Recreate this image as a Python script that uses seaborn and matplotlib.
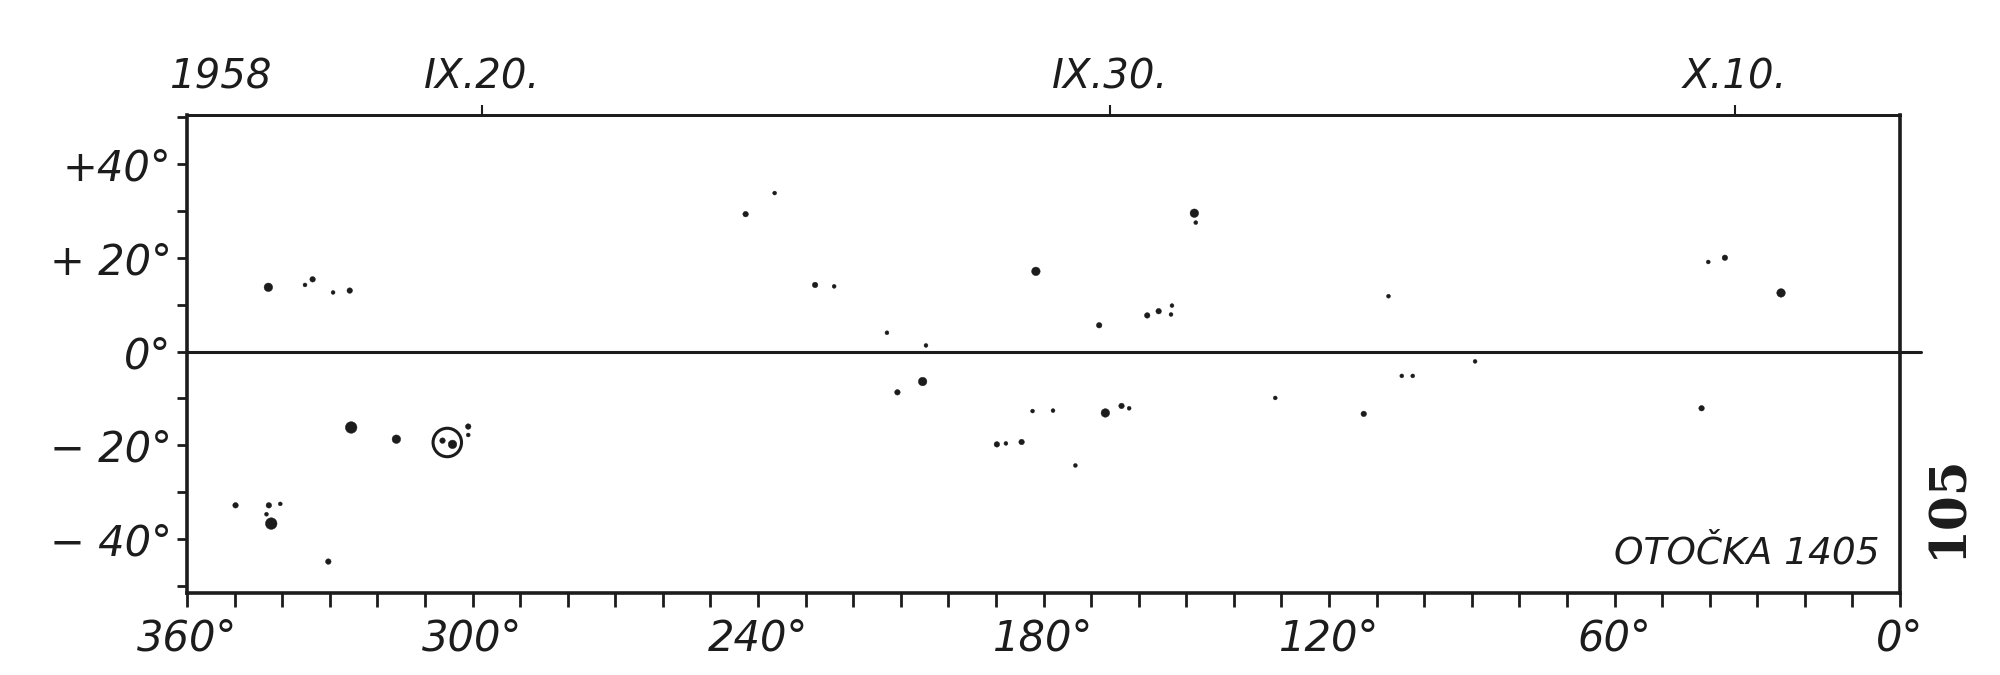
import matplotlib
matplotlib.use("Agg")
import matplotlib.pyplot as plt
import seaborn as sns
import pandas as pd
import numpy as np

# ---------------- data ----------------
lon = [325.5, 342.3, 167.0, 148.3, 25.0, 316.0, 181.6, 205.4, 342.9,
       242.6, 236.5, 228.0, 224.0, 212.9, 204.7, 210.7, 182.3, 178.0,
       163.6, 162.0, 189.8, 187.9, 184.6, 173.3, 131.3, 168.3, 158.2,
       155.8, 153.2, 153.0, 148.0, 107.5, 104.7, 102.4, 89.3, 112.7,
       41.7, 36.8, 40.3, 349.8, 342.8, 340.4, 343.3, 330.3, 335.2,
       333.6, 329.3, 325.8, 300.9, 300.9, 306.3, 304.2]
lat = [-16.2, -36.7, -13.1, 29.5, 12.5, -18.7, 17.1, -6.4, 13.7,
       29.3, 33.8, 14.2, 13.9, 4.0, 1.3, -8.7, -12.7, -12.6,
       -11.6, -12.1, -19.8, -19.6, -19.3, -24.3, -9.9, 5.6, 7.7,
       8.6, 7.9, 9.8, 27.5, 11.8, -5.2, -5.2, -2.1, -13.3,
       -12.1, 20.0, 19.1, -32.8, -32.8, -32.5, -34.7, -44.8, 14.2,
       15.4, 12.6, 13.0, -16.0, -17.8, -19.0, -19.8]
kind = ["large", "large", "medium", "medium", "medium", "medium", "medium", "medium", "medium",
        "small", "tiny", "small", "tiny", "tiny", "tiny", "small", "tiny", "tiny",
        "small", "tiny", "small", "tiny", "small", "tiny", "tiny", "small", "small",
        "small", "tiny", "tiny", "tiny", "tiny", "tiny", "tiny", "tiny", "small",
        "small", "small", "tiny", "small", "small", "tiny", "tiny", "small", "tiny",
        "small", "tiny", "small", "small", "tiny", "small", "medium"]

circled_lon = [305.3]
circled_lat = [-19.4]

x_ticks = [360, 300, 240, 180, 120, 60, 0]
x_ticklabels = ["360°", "300°", "240°", "180°", "120°", "60°", "0°"]
y_ticks = [40, 20, 0, -20, -40]
y_ticklabels = ["+40°", "+ 20°", "0°", "− 20°", "− 40°"]
date_pos = [353.0, 298.0, 166.0, 34.6]
date_labels = ["1958", "IX.20.", "IX.30.", "X.10."]

df = pd.DataFrame({"lon": lon, "lat": lat, "kind": kind})

# ---------------- style ----------------
sns.set_style("white")
plt.rcParams["font.family"] = ["DejaVu Sans"]
plt.rcParams["font.style"] = "italic"
ink = "#1c1c1c"

fig = plt.figure(figsize=(20, 6.75), dpi=100)
ax = fig.add_axes([0.0935, 0.1215, 0.8565, 0.7085])

size_map = {"large": 70, "medium": 38, "small": 16, "tiny": 8}
sns.scatterplot(data=df, x="lon", y="lat", size="kind", sizes=size_map,
                color=ink, edgecolor=ink, linewidth=0.3, legend=False, ax=ax)
sns.scatterplot(x=circled_lon, y=circled_lat, marker="o", s=420,
                facecolor="none", edgecolor=ink, linewidth=2.2, legend=False, ax=ax)

ax.axhline(0, xmin=0, xmax=1.012, color=ink, lw=2.2, clip_on=False)

ax.set_xlim(360, 0)
ax.set_ylim(-51.5, 50.5)
ax.set_xlabel("")
ax.set_ylabel("")

ax.set_xticks(x_ticks)
ax.set_xticklabels(x_ticklabels, fontsize=30, style="italic", color=ink)
ax.set_xticks(np.arange(0, 361, 10), minor=True)
ax.set_yticks(y_ticks)
ax.set_yticklabels(y_ticklabels, fontsize=30, style="italic", color=ink)
ax.set_yticks(np.arange(-50, 51, 10), minor=True)

ax.tick_params(axis="x", which="both", direction="out", length=10, width=2,
               color=ink, pad=8, bottom=True, top=False)
ax.tick_params(axis="y", which="both", direction="out", length=7, width=2,
               color=ink, pad=4, left=True, right=False)

for s in ["left", "bottom", "right"]:
    ax.spines[s].set_color(ink)
    ax.spines[s].set_linewidth(2.6)
ax.spines["top"].set_color(ink)
ax.spines["top"].set_linewidth(2.0)

ax2 = ax.secondary_xaxis("top")
ax2.set_xticks(date_pos)
ax2.set_xticklabels(date_labels, fontsize=29, style="italic", color=ink)
ax2.tick_params(axis="x", direction="out", length=7, width=1.5, color=ink, pad=6)
ax2.spines["top"].set_color(ink)
ax2.spines["top"].set_linewidth(2.0)
t0 = ax2.xaxis.get_major_ticks()[0]
t0.tick1line.set_visible(False)
t0.tick2line.set_visible(False)

ax.text(0.988, 0.045, "OTOČKA 1405", transform=ax.transAxes, ha="right",
        va="bottom", fontsize=27, style="italic", color=ink)
fig.text(0.974, 0.25, "105", rotation=90, ha="center", va="center",
         fontsize=36, fontweight="bold", family="DejaVu Serif", style="normal",
         color=ink)

fig.savefig("out.png", dpi=100, facecolor="white")
